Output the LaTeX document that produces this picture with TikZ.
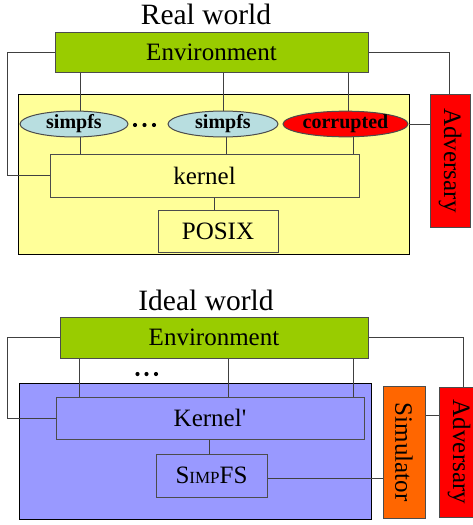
\documentclass[tikz,border=0pt]{standalone}
\usepackage{fontspec}
\setmainfont{Liberation Serif}
\usetikzlibrary{shapes.geometric,calc}
\definecolor{envgreen}{HTML}{99CC00}
\definecolor{realbg}{HTML}{FFFF99}
\definecolor{idealbg}{HTML}{9999FF}
\definecolor{fsblue}{HTML}{B8DEE0}
\definecolor{advred}{HTML}{FF0000}
\definecolor{simorange}{HTML}{FF6600}
\begin{document}
\begin{tikzpicture}[x=1pt,y=-1pt,
  wire/.style={draw=black!75,line width=1pt},
  box/.style={draw=black!70,line width=1pt,inner sep=0pt,font=\fontsize{25}{28}\selectfont},
  area/.style={draw=black,line width=0.8pt,inner sep=0pt},
  fsnode/.style={ellipse,draw=black!70,line width=1pt,inner sep=0pt,font=\fontsize{20}{22}\selectfont\bfseries},
  title/.style={inner sep=0pt,font=\fontsize{29.5}{32}\selectfont}]
\useasboundingbox (0,0) rectangle (473,525);
% ---------------- Real world ----------------
\node[title] (t1) at (206,14) {Real world};
\node[area,fill=realbg,minimum width=391,minimum height=160] (real) at (213.5,174) {};
\node[box,fill=envgreen,minimum width=313,minimum height=40] (env1) at (211.5,52) {Environment};
\node[box,fill=realbg,minimum width=309,minimum height=43] (kernel) at (204.5,175.5) {kernel};
\node[box,fill=realbg,minimum width=120,minimum height=42] (posix) at (218,231) {POSIX};
% rotated node: west = top, south = left side
\node[box,fill=advred,minimum width=133,minimum height=40,rotate=-90] (adv1) at (450,160.5) {Adversary};
% wires
\draw[wire] (env1.west) -- ++(-47,0) |- (kernel.west);
\draw[wire] (env1.east) -| ([xshift=-1pt]adv1.west);
\draw[wire] (80,0 |- env1.south) -- (80,124);
\draw[wire] (223,0 |- env1.south) -- (223,124);
\draw[wire] (348,0 |- env1.south) -- (348,124);
\draw[wire] (80,124) -- (80,0 |- kernel.north);
\draw[wire] (226,124) -- (226,0 |- kernel.north);
\draw[wire] (353,124) -- (353,0 |- kernel.north);
\draw[wire] ([xshift=-4pt]posix.north) -- ([xshift=-4pt]posix.north |- kernel.south);
\node[fsnode,fill=fsblue,minimum width=108,minimum height=25] (s1) at (74,124) {simpfs};
\node[fsnode,fill=fsblue,minimum width=110,minimum height=25] (s2) at (223,124) {simpfs};
\node[fsnode,fill=advred,minimum width=125,minimum height=25] (cor) at (345.5,124) {corrupted};
\draw[wire] (cor.east) -- (cor.east -| adv1.south);
\foreach \x in {135,144.5,154} \fill (\x,125) circle (2.1);
% ---------------- Ideal world ----------------
\node[title] (t2) at (206,300) {Ideal world};
\node[area,fill=idealbg,minimum width=352,minimum height=136] (ideal) at (195,451) {};
\node[box,fill=envgreen,minimum width=308,minimum height=41] (env2) at (214,337.5) {Environment};
\node[box,fill=idealbg,minimum width=308,minimum height=42] (kp) at (210,418) {Kernel\textquotesingle};
\node[box,fill=idealbg,minimum width=111,minimum height=43] (sfs) at (211.5,475.5) {S{\fontsize{17}{20}\selectfont IMP}FS};
\node[box,fill=simorange,minimum width=132,minimum height=42,rotate=-90] (sim) at (404,452) {Simulator};
\node[box,fill=advred,minimum width=130,minimum height=40,rotate=-90] (adv2) at (459,452) {Adversary};
\draw[wire] (env2.west) -- ++(-52,0) |- (kp.west);
\draw[wire] (env2.east) -| ([xshift=4pt]adv2.west);
\foreach \x in {79,228,353} \draw[wire] (\x,0 |- env2.south) -- (\x,0 |- kp.north);
\draw[wire] ([xshift=-2.5pt]sfs.north) -- ([xshift=-2.5pt]sfs.north |- kp.south);
\draw[wire] ([yshift=-2.5pt]sfs.east) -- ([yshift=-2.5pt]sfs.east -| sim.south);
\draw[wire] (sim.north |- 0,415) -- (adv2.south |- 0,415);
\foreach \x in {137.5,146.5,156} \fill (\x,374) circle (2.1);
\end{tikzpicture}
\end{document}
